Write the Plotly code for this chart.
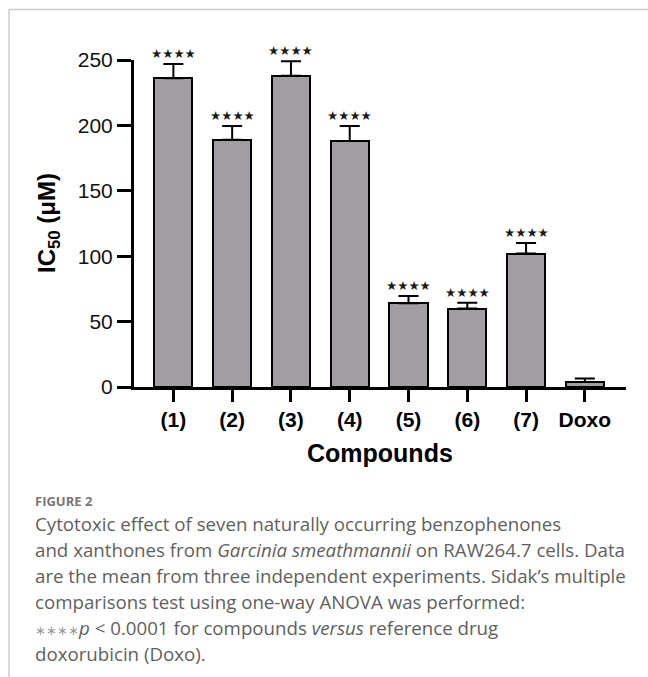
import plotly.graph_objects as go

categories = ["(1)", "(2)", "(3)", "(4)", "(5)", "(6)", "(7)", "Doxo"]
ic50_mean = [236, 189, 238, 188, 64, 60, 102, 3.8]
ic50_err = [11, 10.5, 11, 11.5, 5.5, 4.5, 8, 2.7]
significance = ["★★★★"] * 7 + [""]
y_ticks = [0, 50, 100, 150, 200, 250]

W, H = 648, 677
L, R, T, B = 134, 22, 60, 290
pw, ph = W - L - R, H - T - B

def px(x):
    return (x - L) / pw

def py(y):
    return (H - B - y) / ph

fig = go.Figure()
fig.add_trace(go.Bar(
    x=list(range(len(categories))),
    y=ic50_mean,
    width=0.65,
    marker=dict(color="#a19da2", line=dict(color="black", width=2)),
    error_y=dict(type="data", symmetric=False, array=ic50_err,
                 arrayminus=[0] * len(ic50_err),
                 color="black", thickness=2, width=10),
    showlegend=False,
))

for i, (v, e, s) in enumerate(zip(ic50_mean, ic50_err, significance)):
    if s:
        fig.add_annotation(x=i, y=v + e, xref="x", yref="y", text=s,
                           showarrow=False, yanchor="bottom", yshift=1,
                           font=dict(family="DejaVu Sans", size=12.5,
                                     color="#1a1a1a"))

fig.update_xaxes(
    range=[-0.67, 7.7],
    tickmode="array", tickvals=list(range(len(categories))),
    ticktext=["<b>%s</b>" % c for c in categories],
    ticks="outside", ticklen=12, tickwidth=3, tickcolor="black",
    showline=True, linewidth=3, linecolor="black",
    tickfont=dict(family="Liberation Sans, Arial", size=21, color="black"),
    showgrid=False, zeroline=False,
)
fig.update_yaxes(
    range=[0, 250],
    tickmode="array", tickvals=y_ticks,
    ticks="outside", ticklen=14, tickwidth=3, tickcolor="black",
    showline=True, linewidth=3, linecolor="black",
    tickfont=dict(family="Liberation Sans, Arial", size=21, color="#111"),
    showgrid=False, zeroline=False,
)

# axis titles
fig.add_annotation(xref="paper", yref="paper", x=px(48), y=py(223),
                   text="<b>IC<sub>50</sub> (μM)</b>", textangle=-90,
                   showarrow=False, xanchor="center", yanchor="middle",
                   font=dict(family="Liberation Sans, Arial", size=24, color="black"))
fig.add_annotation(xref="paper", yref="paper", x=px(380), y=py(453),
                   text="<b>Compounds</b>", showarrow=False,
                   xanchor="center", yanchor="middle",
                   font=dict(family="Liberation Sans, Arial", size=25, color="black"))

# caption
fig.add_annotation(xref="paper", yref="paper", x=px(33), y=py(501),
                   text="<b>FIGURE 2</b>", showarrow=False,
                   xanchor="left", yanchor="middle",
                   font=dict(family="Open Sans", size=13, color="#777"))
caption_lines = [
    "Cytotoxic effect of seven naturally occurring benzophenones",
    "and xanthones from <i>Garcinia smeathmannii</i> on RAW264.7 cells. Data",
    "are the mean from three independent experiments. Sidak’s multiple",
    "comparisons test using one-way ANOVA was performed:",
    "<span style='font-size:13px;color:#999'>∗∗∗∗</span><i>p</i> &lt; 0.0001 for compounds <i>versus</i> reference drug",
    "doxorubicin (Doxo).",
]
for k, line in enumerate(caption_lines):
    fig.add_annotation(xref="paper", yref="paper", x=px(33), y=py(523 + 26 * k),
                       text=line, showarrow=False, xanchor="left", yanchor="middle",
                       font=dict(family="Open Sans", size=18.7, color="#5f5f5f"))

# frame lines
fig.add_shape(type="line", xref="paper", yref="paper",
              x0=px(9), x1=px(648), y0=py(9.5), y1=py(9.5),
              line=dict(color="#cccccc", width=1.5))
fig.add_shape(type="line", xref="paper", yref="paper",
              x0=px(9), x1=px(9), y0=py(9.5), y1=py(677),
              line=dict(color="#cccccc", width=1.5))

fig.update_layout(
    width=W, height=H,
    margin=dict(l=L, r=R, t=T, b=B),
    plot_bgcolor="white", paper_bgcolor="white",
    bargap=0,
)
fig.write_html("out.html", config={"displayModeBar": False},
               post_script="document.body.style.margin='0';document.body.style.overflow='hidden';")
